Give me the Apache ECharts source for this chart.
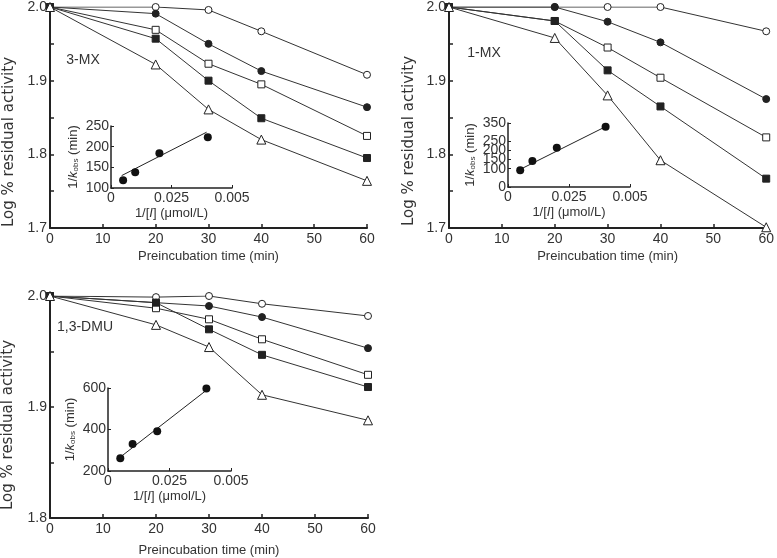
<!DOCTYPE html>
<html>
<head>
<meta charset="utf-8">
<script src="https://cdn.jsdelivr.net/npm/echarts@6/dist/echarts.min.js"></script>
<style>
html,body{margin:0;padding:0;background:#fff;}
#chart{width:777px;height:558px;}
</style>
</head>
<body>
<div id="chart"></div>
<script>
// ---------- DATA ----------
const timeMin = [0, 20, 30, 40, 60];

// Panel A: 3-MX
const mx3OpenCircle   = [2.000, 2.000, 1.996, 1.967, 1.908];
const mx3FilledCircle = [2.000, 1.991, 1.950, 1.913, 1.864];
const mx3OpenSquare   = [2.000, 1.969, 1.923, 1.895, 1.825];
const mx3FilledSquare = [2.000, 1.957, 1.900, 1.849, 1.795];
const mx3Triangle     = [2.000, 1.922, 1.861, 1.820, 1.764];

// Panel B: 1-MX
const mx1OpenCircle   = [2.000, 2.000, 2.000, 2.000, 1.967];
const mx1FilledCircle = [2.000, 2.000, 1.980, 1.952, 1.875];
const mx1OpenSquare   = [2.000, 1.981, 1.945, 1.904, 1.823];
const mx1FilledSquare = [2.000, 1.981, 1.914, 1.865, 1.767];
const mx1Triangle     = [2.000, 1.958, 1.880, 1.792, 1.701];

// Panel C: 1,3-DMU
const dmuOpenCircle   = [2.000, 1.999, 2.000, 1.993, 1.982];
const dmuFilledCircle = [2.000, 1.994, 1.991, 1.981, 1.953];
const dmuOpenSquare   = [2.000, 1.989, 1.979, 1.961, 1.929];
const dmuFilledSquare = [2.000, 1.994, 1.970, 1.947, 1.918];
const dmuTriangle     = [2.000, 1.974, 1.954, 1.911, 1.888];

// Insets: 1/[I] vs 1/kobs
const invConc = [0.005, 0.01, 0.02, 0.04];
const insetXTickLabels = { '0': '0', '0.025': '0.025', '0.05': '0.005' };
const mx3Kobs = [119, 138, 184, 223];
const mx1Kobs = [91, 142, 215, 330];
const dmuKobs = [262, 330, 392, 598];
const mx3FitX = [0.0044, 0.0395], mx3FitY = [130, 235];
const mx1FitX = [0.0045, 0.0400], mx1FitY = [93, 330];
const dmuFitX = [0.0036, 0.0403], dmuFitY = [254, 592];

const panelLabels = ['3-MX', '1-MX', '1,3-DMU'];
const yTitle = 'Log % residual activity';

// ---------- STYLE ----------
const FONT = 'Liberation Sans';
const INK = '#222';
const TXT = '#333';

function pairs(xs, ys) { return xs.map((x, i) => [x, ys[i]]); }

const symbolDefs = [
  { symbol: 'circle',   fill: '#fff' },
  { symbol: 'circle',   fill: INK },
  { symbol: 'rect',     fill: '#fff' },
  { symbol: 'rect',     fill: INK },
  { symbol: 'triangle', fill: '#fff' }
];
const panelSeries = [
  [mx3OpenCircle, mx3FilledCircle, mx3OpenSquare, mx3FilledSquare, mx3Triangle],
  [mx1OpenCircle, mx1FilledCircle, mx1OpenSquare, mx1FilledSquare, mx1Triangle],
  [dmuOpenCircle, dmuFilledCircle, dmuOpenSquare, dmuFilledSquare, dmuTriangle]
];

const mainGrids = [
  { left: 50,  top: 5,   width: 317, height: 223 },
  { left: 449, top: 5,   width: 319, height: 223 },
  { left: 50,  top: 296, width: 318, height: 223 }
];
const insetGrids = [
  { left: 111, top: 126, width: 121, height: 62 },
  { left: 508, top: 123, width: 122, height: 64 },
  { left: 108, top: 388, width: 123, height: 83 }
];
const mainYRange = [[1.7, 2.0], [1.7, 2.0], [1.8, 2.0]];
const insetYRange = [[100, 250, 50], [0, 350, 50], [200, 600, 200]];
const xNameGaps = [22, 22, 26];

const grid = [], xAxis = [], yAxis = [], series = [];

mainGrids.forEach((g, i) => {
  grid.push(Object.assign({ containLabel: false }, g));
  xAxis.push({
    type: 'value', gridIndex: i, min: 0, max: 60, interval: 10,
    name: 'Preincubation time (min)', nameLocation: 'middle', nameGap: xNameGaps[i],
    nameTextStyle: { fontFamily: FONT, fontSize: 13, color: TXT },
    axisLine: { lineStyle: { color: INK, width: 2 } },
    axisTick: { inside: true, length: 4, lineStyle: { color: INK, width: 1.5 } },
    axisLabel: { fontFamily: FONT, fontSize: 14, color: TXT, margin: 4 },
    splitLine: { show: false }
  });
  yAxis.push({
    type: 'value', gridIndex: i, min: mainYRange[i][0], max: mainYRange[i][1], interval: 0.05,
    axisLine: { show: true, lineStyle: { color: INK, width: 2 } },
    axisTick: { show: true, inside: true, length: 4, lineStyle: { color: INK, width: 1.5 } },
    axisLabel: {
      fontFamily: FONT, fontSize: 14, color: TXT, margin: 3,
      formatter: v => (Math.round(v * 100) % 10 === 0 ? v.toFixed(1) : '')
    },
    splitLine: { show: false }
  });
});

insetGrids.forEach((g, j) => {
  const i = 3 + j;
  grid.push(Object.assign({ containLabel: false }, g));
  xAxis.push({
    type: 'value', gridIndex: i, min: 0, max: 0.05, interval: 0.025,
    name: '{n|1/[}{i|I}{n|] (μmol/L)}', nameLocation: 'middle', nameGap: 19,
    nameTextStyle: { rich: {
      n: { fontFamily: FONT, fontSize: 13, color: TXT },
      i: { fontFamily: FONT, fontSize: 13, color: TXT, fontStyle: 'italic' }
    } },
    axisLine: { lineStyle: { color: INK, width: 1.5 } },
    axisTick: { inside: true, length: 3, lineStyle: { color: INK } },
    axisLabel: {
      fontFamily: FONT, fontSize: 14, color: TXT, margin: 3,
      showMinLabel: true, showMaxLabel: true,
      formatter: v => insetXTickLabels[String(+v.toFixed(3))] || ''
    },
    splitLine: { show: false }
  });
  yAxis.push({
    type: 'value', gridIndex: i, min: insetYRange[j][0], max: insetYRange[j][1], interval: insetYRange[j][2],
    name: '{n|1/}{i|k}{s|obs}{n| (min)}', nameLocation: 'middle', nameGap: 31,
    nameTextStyle: { rich: {
      n: { fontFamily: FONT, fontSize: 13, color: TXT },
      i: { fontFamily: FONT, fontSize: 13, color: TXT, fontStyle: 'italic' },
      s: { fontFamily: FONT, fontSize: 8, color: TXT, padding: [6, 0, 0, 0] }
    } },
    axisLine: { show: true, lineStyle: { color: INK, width: 1.5 } },
    axisTick: { show: true, inside: true, length: 3, lineStyle: { color: INK } },
    axisLabel: {
      fontFamily: FONT, fontSize: 14, color: TXT, margin: 2, lineHeight: 10,
      interval: 0, showMinLabel: true, showMaxLabel: true, hideOverlap: false
    },
    splitLine: { show: false }
  });
});

// main series
panelSeries.forEach((list, p) => {
  list.forEach((vals, k) => {
    const sd = symbolDefs[k];
    series.push({
      type: 'line', xAxisIndex: p, yAxisIndex: p,
      data: pairs(timeMin, vals),
      symbol: sd.symbol, symbolSize: sd.symbol === 'triangle' ? 9 : 7,
      lineStyle: { color: '#333', width: 1 },
      itemStyle: { color: sd.fill, borderColor: INK, borderWidth: 1, opacity: 1 },
      z: 2 + k, animation: false, silent: true
    });
  });
});

// inset series
[[mx3Kobs, mx3FitX, mx3FitY], [mx1Kobs, mx1FitX, mx1FitY], [dmuKobs, dmuFitX, dmuFitY]].forEach((d, j) => {
  const i = 3 + j;
  series.push({
    type: 'line', xAxisIndex: i, yAxisIndex: i,
    data: pairs(d[1], d[2]), showSymbol: false, symbol: 'none',
    lineStyle: { color: INK, width: 1 }, animation: false, silent: true, z: 10
  });
  series.push({
    type: 'scatter', xAxisIndex: i, yAxisIndex: i,
    data: pairs(invConc, d[0]), symbol: 'circle', symbolSize: 8,
    itemStyle: { color: '#111', opacity: 1 }, animation: false, silent: true, z: 11
  });
});

const yTitleFont = '15px "DejaVu Sans"';
const graphic = [
  { type: 'text', x: 9, y: 142, rotation: Math.PI / 2,
    style: { text: yTitle, font: yTitleFont, fill: TXT, align: 'center', verticalAlign: 'middle' } },
  { type: 'text', x: 409, y: 141, rotation: Math.PI / 2,
    style: { text: yTitle, font: yTitleFont, fill: TXT, align: 'center', verticalAlign: 'middle' } },
  { type: 'text', x: 8, y: 425, rotation: Math.PI / 2,
    style: { text: yTitle, font: yTitleFont, fill: TXT, align: 'center', verticalAlign: 'middle' } },
  { type: 'text', x: 83, y: 60,
    style: { text: panelLabels[0], font: '14px "Liberation Sans"', fill: TXT, align: 'center', verticalAlign: 'middle' } },
  { type: 'text', x: 484, y: 53,
    style: { text: panelLabels[1], font: '14px "Liberation Sans"', fill: TXT, align: 'center', verticalAlign: 'middle' } },
  { type: 'text', x: 85, y: 327,
    style: { text: panelLabels[2], font: '14px "Liberation Sans"', fill: TXT, align: 'center', verticalAlign: 'middle' } }
];

const chart = echarts.init(document.getElementById('chart'), null, { renderer: 'canvas' });
chart.setOption({
  backgroundColor: '#fff',
  animation: false,
  grid, xAxis, yAxis, series, graphic
});
</script>
</body>
</html>
